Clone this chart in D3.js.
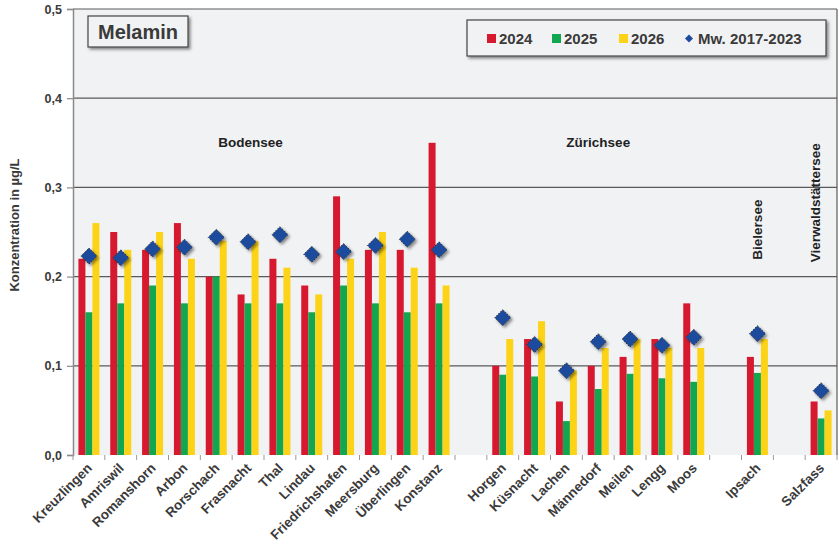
<!DOCTYPE html>
<html>
<head>
<meta charset="utf-8">
<script src="https://cdn.jsdelivr.net/npm/d3@7"></script>
<style>
    body { margin: 0; background: #fff; }
    svg text { font-family: Arial, "Liberation Sans", sans-serif; }
</style>
</head>
<body>
<div id="chart"></div>
<script>
    // data
    var sites = ["Kreuzlingen", "Amriswil", "Romanshorn", "Arbon", "Rorschach", "Frasnacht", "Thal", "Lindau",
        "Friedrichshafen", "Meersburg", "Überlingen", "Konstanz", "", "Horgen", "Küsnacht", "Lachen", "Männedorf",
        "Meilen", "Lengg", "Moos", "", "Ipsach", "", "Salzfass"];
    var v2024 = [0.22, 0.25, 0.23, 0.26, 0.20, 0.18, 0.22, 0.19, 0.29, 0.23, 0.23, 0.35, null,
        0.10, 0.13, 0.06, 0.10, 0.11, 0.13, 0.17, null, 0.11, null, 0.06];
    var v2025 = [0.16, 0.17, 0.19, 0.17, 0.20, 0.17, 0.17, 0.16, 0.19, 0.17, 0.16, 0.17, null,
        0.09, 0.088, 0.038, 0.074, 0.091, 0.086, 0.082, null, 0.092, null, 0.041];
    var v2026 = [0.26, 0.23, 0.25, 0.22, 0.24, 0.24, 0.21, 0.18, 0.22, 0.25, 0.21, 0.19, null,
        0.13, 0.15, 0.095, 0.12, 0.13, 0.12, 0.12, null, 0.13, null, 0.05];
    var mean = [0.223, 0.221, 0.231, 0.233, 0.244, 0.239, 0.247, 0.225, 0.228, 0.235, 0.242, 0.23, null,
        0.154, 0.124, 0.0945, 0.127, 0.13, 0.123, 0.132, null, 0.136, null, 0.072];
    var yTicks = [0, 0.1, 0.2, 0.3, 0.4, 0.5];
    var seriesNames = ["2024", "2025", "2026"];
    var seriesColors = ["#d7192f", "#12a650", "#fdd317"];
    var lakes = [
        {name: "Bodensee", at: "Frasnacht", offset: 0.58, value: 0.345, vertical: false},
        {name: "Zürichsee", at: "Männedorf", offset: 0.5, value: 0.345, vertical: false},
        {name: "Bielersee", at: "Ipsach", offset: 0.5, value: 0.219, vertical: true},
        {name: "Vierwaldstättersee", at: "Salzfass", offset: 0.3, value: 0.216, vertical: true}
    ];

    var width = 839, height = 550;
    var margin = {left: 73, right: 2, top: 9, bottom: 95};
    var plotW = width - margin.left - margin.right;
    var plotH = height - margin.top - margin.bottom;

    var svg = d3.select("#chart").append("svg").attr("width", width).attr("height", height);

    var defs = svg.append("defs");
    var shadow = defs.append("filter").attr("id", "shadow").attr("x", "-30%").attr("y", "-30%").attr("width", "170%").attr("height", "170%");
    shadow.append("feDropShadow").attr("dx", 2).attr("dy", 2).attr("stdDeviation", 1.5).attr("flood-color", "#000").attr("flood-opacity", 0.45);

    var x = d3.scaleBand().domain(d3.range(sites.length)).range([0, plotW]);
    var y = d3.scaleLinear().domain([0, 0.5]).range([plotH, 0]);

    var g = svg.append("g").attr("transform", "translate(" + margin.left + "," + margin.top + ")");

    // plot background
    g.append("rect").attr("width", plotW).attr("height", plotH).attr("fill", "#f1f2f4");

    // grid
    g.selectAll(".grid").data(yTicks.slice(1)).enter().append("line")
        .attr("x1", 0).attr("x2", plotW)
        .attr("y1", function (d) { return y(d); }).attr("y2", function (d) { return y(d); })
        .attr("stroke", "#5a5a5a").attr("stroke-width", 1.2);
    g.append("line").attr("x1", plotW).attr("x2", plotW).attr("y1", 0).attr("y2", plotH)
        .attr("stroke", "#5a5a5a").attr("stroke-width", 1.2);

    // y axis
    var yAxis = d3.axisLeft(y).tickValues(yTicks).tickSize(6).tickPadding(5)
        .tickFormat(function (d) { return d3.format(".1f")(d).replace(".", ","); });
    var ya = g.append("g").call(yAxis);
    ya.select(".domain").attr("stroke", "#8a8a8a").attr("stroke-width", 1.5);
    ya.selectAll(".tick line").attr("stroke", "#8a8a8a").attr("stroke-width", 1.2);
    ya.selectAll(".tick text").attr("font-size", 12.5).attr("font-weight", "bold").attr("fill", "#3a3a3a");

    // bars
    var barW = 7;
    var groups = g.selectAll(".site").data(sites).enter().append("g").attr("class", "site")
        .attr("transform", function (d, i) { return "translate(" + (x(i) + x.bandwidth() / 2 - barW * 1.5) + ",0)"; });
    [v2024, v2025, v2026].forEach(function (series, s) {
        groups.filter(function (d, i) { return series[i] !== null; }).append("rect")
            .attr("x", s * barW).attr("width", barW)
            .attr("y", function (d) { return y(series[sites.indexOf(d)]); })
            .attr("height", function (d) { return plotH - y(series[sites.indexOf(d)]); })
            .attr("fill", seriesColors[s]);
    });

    // x axis
    var xa = g.append("g").attr("transform", "translate(0," + plotH + ")");
    xa.append("line").attr("x1", 0).attr("x2", plotW).attr("y1", 0).attr("y2", 0)
        .attr("stroke", "#8a8a8a").attr("stroke-width", 2.5).attr("filter", "url(#shadow)");
    xa.selectAll(".tk").data(d3.range(sites.length + 1)).enter().append("line")
        .attr("x1", function (d) { return d * x.step(); }).attr("x2", function (d) { return d * x.step(); })
        .attr("y1", 0).attr("y2", 5).attr("stroke", "#9a9a9a").attr("stroke-width", 1);
    xa.selectAll(".lbl").data(sites).enter().append("text")
        .attr("transform", function (d, i) { return "translate(" + (x(i) + x.bandwidth() / 2 + 4) + ",14) rotate(-45)"; })
        .attr("text-anchor", "end").attr("font-size", 13.5).attr("font-weight", "bold").attr("fill", "#3a3a3a")
        .text(function (d) { return d; });

    // mean markers
    var idx = d3.range(sites.length).filter(function (i) { return mean[i] !== null; });
    g.selectAll(".mw").data(idx).enter().append("path")
        .attr("transform", function (i) { return "translate(" + (x(i) + x.bandwidth() / 2) + "," + y(mean[i]) + ")"; })
        .attr("d", "M0,-8L8,0L0,8L-8,0Z")
        .attr("fill", "#1d4c9e").attr("stroke", "#333").attr("stroke-width", 1).attr("stroke-dasharray", "1.5,1.5")
        .attr("filter", "url(#shadow)");

    // lake labels
    lakes.forEach(function (l) {
        var i = sites.indexOf(l.at);
        var cx = x(i) + x.step() * l.offset, cy = y(l.value);
        var t = g.append("text").attr("font-family", "'Open Sans', sans-serif").attr("font-size", 13.5)
            .attr("font-weight", "bold").attr("fill", "#222").text(l.name);
        if (l.vertical) {
            t.attr("transform", "translate(" + (cx + 5) + "," + cy + ") rotate(-90)").attr("text-anchor", "start");
        } else {
            t.attr("x", cx).attr("y", cy).attr("text-anchor", "middle");
        }
    });

    // y title
    svg.append("text").attr("transform", "translate(19,225) rotate(-90)")
        .attr("text-anchor", "middle").attr("font-size", 13).attr("font-weight", "bold").attr("fill", "#3a3a3a")
        .text("Konzentration in µg/L");

    // title box
    var tb = svg.append("g").attr("transform", "translate(88,16)");
    tb.append("rect").attr("width", 100).attr("height", 31).attr("fill", "#f1f2f4")
        .attr("stroke", "#444").attr("stroke-width", 1.2).attr("filter", "url(#shadow)");
    tb.append("text").attr("x", 50).attr("y", 23).attr("text-anchor", "middle")
        .attr("font-size", 20).attr("font-weight", "bold").attr("fill", "#3a3a3a").text("Melamin");

    // legend
    var lg = svg.append("g").attr("transform", "translate(467,20)");
    lg.append("rect").attr("width", 359).attr("height", 36).attr("fill", "#f1f2f4")
        .attr("stroke", "#444").attr("stroke-width", 1.2).attr("filter", "url(#shadow)");
    var legX = [20, 85, 152];
    seriesNames.forEach(function (n, s) {
        lg.append("rect").attr("x", legX[s]).attr("y", 14).attr("width", 9).attr("height", 9).attr("fill", seriesColors[s]);
        lg.append("text").attr("x", legX[s] + 12).attr("y", 24).attr("font-size", 15).attr("font-weight", "bold")
            .attr("fill", "#3a3a3a").text(n);
    });
    lg.append("path").attr("transform", "translate(222,18.5)").attr("d", "M0,-4L4,0L0,4L-4,0Z").attr("fill", "#1d4c9e");
    lg.append("text").attr("x", 231).attr("y", 24).attr("font-size", 15).attr("font-weight", "bold")
        .attr("fill", "#3a3a3a").text("Mw. 2017-2023");
</script>
</body>
</html>
